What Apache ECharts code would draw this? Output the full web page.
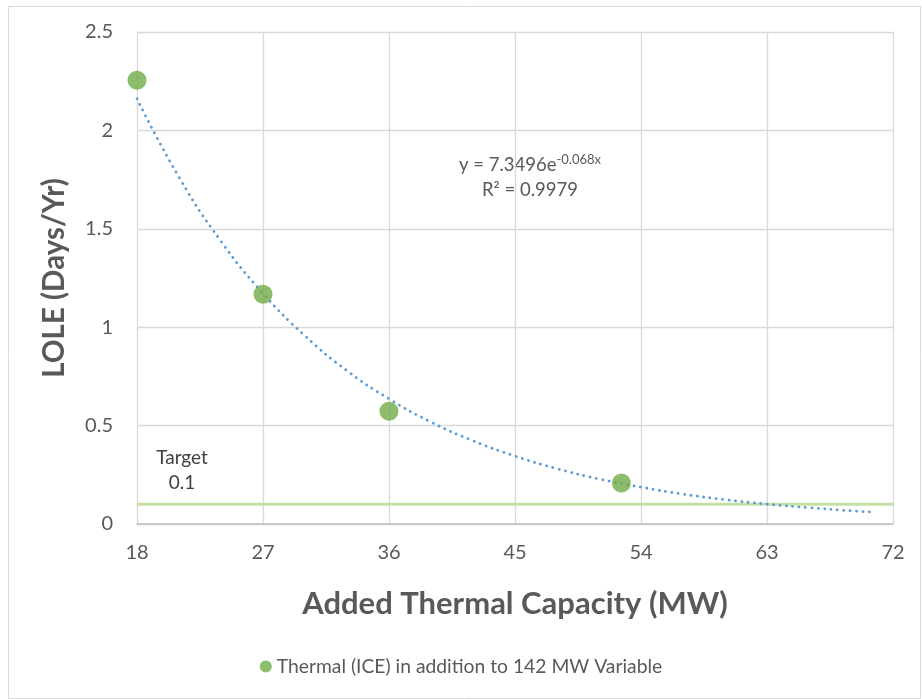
<!DOCTYPE html>
<html>
<head>
<meta charset="utf-8">
<script src="https://cdn.jsdelivr.net/npm/echarts@6/dist/echarts.min.js"></script>
<style>html,body{margin:0;padding:0;background:#fff;}#c{width:922px;height:699px;}</style>
</head>
<body>
<div id="c"></div>
<script>
// Data
const xTicks = [18, 27, 36, 45, 54, 63, 72];
const yTicks = [0, 0.5, 1, 1.5, 2, 2.5];
const seriesName = 'Thermal (ICE) in addition to 142 MW Variable';
const pointX = [18, 27, 36, 52.6];
const pointY = [2.255, 1.167, 0.573, 0.208];
// Exponential trendline (y = 7.3496e^-0.068x)
const trendX = [18, 21, 24, 27, 30, 33, 36, 39, 42, 45, 48, 51, 54, 57, 60, 63, 66, 69, 70.4];
const trendY = [2.161, 1.762, 1.437, 1.172, 0.956, 0.779, 0.636, 0.518, 0.423, 0.345, 0.281, 0.229, 0.187, 0.152, 0.124, 0.101, 0.083, 0.067, 0.061];
const targetX = [18, 72];
const targetY = [0.1, 0.1];
const targetLabel = 'Target\n0.1';
const eqText = 'y = 7.3496e';
const eqExp = '-0.068x';
const r2Text = 'R² = 0.9979';

const FONT = 'Lato, "Open Sans", sans-serif';
const chart = echarts.init(document.getElementById('c'));
chart.setOption({
  animation: false,
  backgroundColor: '#fff',
  textStyle: { fontFamily: FONT },
  grid: { left: 137, right: 29, top: 32, bottom: 175, containLabel: false },
  xAxis: {
    type: 'value', min: 18, max: 72, interval: 9,
    name: 'Added Thermal Capacity (MW)', nameLocation: 'middle', nameGap: 64,
    nameTextStyle: { fontSize: 31, fontWeight: 'bold', color: '#595959', fontFamily: FONT },
    axisLine: { show: true, lineStyle: { color: '#bfbfbf', width: 1.5 } },
    axisTick: { show: false },
    axisLabel: { fontSize: 20, color: '#595959', margin: 19, fontFamily: FONT },
    splitLine: { show: true, lineStyle: { color: '#d9d9d9', width: 1.3 } }
  },
  yAxis: {
    type: 'value', min: 0, max: 2.5, interval: 0.5,
    name: 'LOLE (Days/Yr)', nameLocation: 'middle', nameGap: 68, nameRotate: 90,
    nameTextStyle: { fontSize: 29.5, fontWeight: 'bold', color: '#595959', fontFamily: FONT },
    axisLine: { show: false },
    axisTick: { show: false },
    axisLabel: { fontSize: 20, color: '#595959', margin: 24, fontFamily: FONT },
    splitLine: { show: true, lineStyle: { color: '#d9d9d9', width: 1.3 } }
  },
  legend: {
    top: 652, left: 'center',
    data: [{ name: seriesName, icon: 'circle' }],
    itemWidth: 12, itemHeight: 12, itemGap: 6,
    textStyle: { fontSize: 19.3, color: '#595959', fontFamily: FONT }
  },
  series: [
    {
      name: 'Target', type: 'line', symbol: 'none', silent: true,
      data: targetX.map((x, i) => [x, targetY[i]]),
      lineStyle: { color: '#c5e0a5', width: 3 },
      z: 2
    },
    {
      name: 'Trend', type: 'line', symbol: 'none', smooth: true, silent: true,
      data: trendX.map((x, i) => [x, trendY[i]]),
      lineStyle: { color: '#5b9bd5', width: 2.8, type: [0.1, 6.3], cap: 'round' },
      z: 3
    },
    {
      name: seriesName, type: 'scatter', symbol: 'circle', symbolSize: 19,
      data: pointX.map((x, i) => [x, pointY[i]]),
      itemStyle: { color: '#70ad47' },
      z: 4
    }
  ],
  graphic: [
    { type: 'rect', left: 6, top: 4, shape: { width: 912, height: 692 }, style: { fill: 'none', stroke: '#d9d9d9', lineWidth: 1 }, silent: true },
    {
      type: 'text', x: 530, y: 178,
      style: {
        text: '{a|' + eqText + '}{b|' + eqExp + '}\n{a|' + r2Text + '}',
        align: 'center', verticalAlign: 'middle', fill: '#595959', fontFamily: FONT,
        rich: {
          a: { fontSize: 18.5, color: '#595959', fontFamily: FONT, lineHeight: 25 },
          b: { fontSize: 13, color: '#595959', fontFamily: FONT, lineHeight: 15, verticalAlign: 'top' }
        }
      }
    },
    {
      type: 'text', x: 182, y: 470,
      style: { text: targetLabel, align: 'center', verticalAlign: 'middle', fontSize: 19, lineHeight: 25, fill: '#404040', fontFamily: FONT }
    }
  ]
});
</script>
</body>
</html>
